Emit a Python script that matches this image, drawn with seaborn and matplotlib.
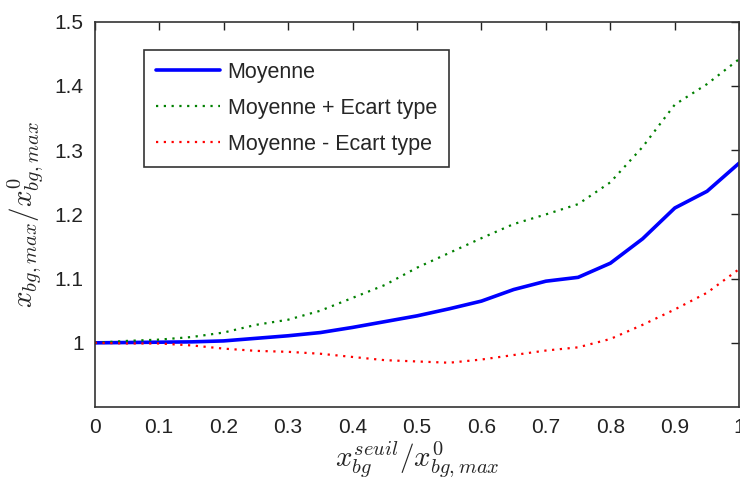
import numpy as np
import pandas as pd
import matplotlib
matplotlib.use("Agg")
import matplotlib.pyplot as plt
import seaborn as sns

# valeurs
seuil = [0, 0.05, 0.1, 0.15, 0.2, 0.25, 0.3, 0.35, 0.4, 0.45, 0.5,
         0.55, 0.6, 0.65, 0.7, 0.75, 0.8, 0.85, 0.9, 0.95, 1.0]
moyenne = [1.0, 1.0005, 1.001, 1.0015, 1.003, 1.007, 1.011, 1.016, 1.024, 1.033, 1.042,
           1.053, 1.065, 1.083, 1.096, 1.102, 1.124, 1.162, 1.21, 1.236, 1.28]
moy_plus = [1.0, 1.003, 1.005, 1.009, 1.016, 1.028, 1.036, 1.05, 1.07, 1.09, 1.117,
            1.14, 1.163, 1.185, 1.2, 1.216, 1.25, 1.305, 1.371, 1.403, 1.442]
moy_moins = [1.0, 0.999, 0.999, 0.996, 0.991, 0.9875, 0.986, 0.983, 0.978, 0.973, 0.971,
             0.969, 0.974, 0.981, 0.988, 0.993, 1.006, 1.028, 1.052, 1.078, 1.115]

labels = ["Moyenne", "Moyenne + Ecart type", "Moyenne - Ecart type"]
xticks = [0, 0.1, 0.2, 0.3, 0.4, 0.5, 0.6, 0.7, 0.8, 0.9, 1]
xtick_labels = ["0", "0.1", "0.2", "0.3", "0.4", "0.5", "0.6", "0.7", "0.8", "0.9", "1"]
yticks = [1.0, 1.1, 1.2, 1.3, 1.4, 1.5]
ytick_labels = ["1", "1.1", "1.2", "1.3", "1.4", "1.5"]

sns.set_style("white")
plt.rcParams["font.family"] = ["Liberation Sans", "DejaVu Sans"]
plt.rcParams["mathtext.fontset"] = "cm"

fig = plt.figure(figsize=(7.4, 4.84), dpi=100)
ax = fig.add_axes([0.128, 0.159, 0.871, 0.796])

sns.lineplot(x=seuil, y=moyenne, ax=ax, color="#0000ff", lw=2.6, label=labels[0])
sns.lineplot(x=seuil, y=moy_plus, ax=ax, color="#008000", lw=1.6, ls=(0, (1, 2.5)), label=labels[1])
sns.lineplot(x=seuil, y=moy_moins, ax=ax, color="#ff0000", lw=1.6, ls=(0, (1, 2.5)), label=labels[2])

ax.set_xlim(0, 1)
ax.set_ylim(0.9, 1.5)
ax.set_xticks(xticks)
ax.set_xticklabels(xtick_labels)
ax.set_yticks(yticks)
ax.set_yticklabels(ytick_labels)
ax.tick_params(direction="in", length=6, width=1, labelsize=15, colors="#222222",
               top=True, right=True, pad=8)
for sp in ax.spines.values():
    sp.set_color("#333333")
    sp.set_linewidth(1.2)

ax.set_xlabel(r"$x_{bg}^{seuil}/x_{bg,max}^{0}$", fontsize=21, labelpad=2)
ax.set_ylabel(r"$x_{bg,max}/x_{bg,max}^{0}$", fontsize=21, labelpad=6)

leg = ax.legend(loc="upper left", bbox_to_anchor=(0.076, 0.927), fontsize=15.5,
                frameon=True, fancybox=False, edgecolor="black", handlelength=3.0,
                borderpad=0.55, labelspacing=0.7, handletextpad=0.35, borderaxespad=0)
leg.get_frame().set_linewidth(1.2)

fig.savefig("out.png", dpi=100)
